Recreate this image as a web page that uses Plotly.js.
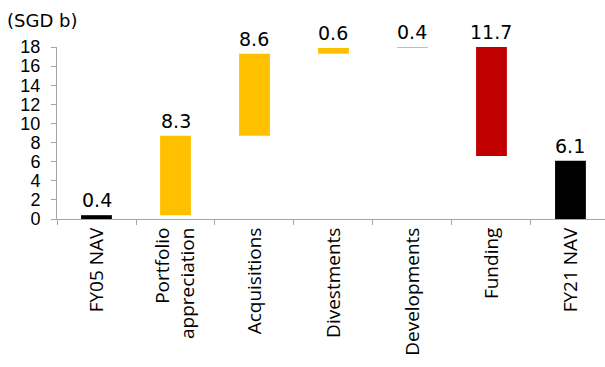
<!DOCTYPE html>
<html>
<head>
<meta charset="utf-8">
<script src="https://cdn.plot.ly/plotly-3.0.1.min.js"></script>
<style>html,body{margin:0;padding:0;background:#fff;}#chart{width:605px;height:367px;}</style>
</head>
<body>
<div id="chart"></div>
<script>
const categories = ["FY05 NAV", "Portfolio<br>appreciation", "Acquisitions", "Divestments", "Developments", "Funding", "FY21 NAV"];
const values = [0.4, 8.3, 8.6, 0.6, 0.4, -11.7, 6.1];
const measures = ["absolute", "relative", "relative", "relative", "relative", "relative", "absolute"];
const labels = ["0.4", "8.3", "8.6", "0.6", "0.4", "11.7", "6.1"];
const yMax = 18;

const colTotal = "#000000", colUp = "#FFC000", colDown = "#C00000";

let running = 0;
const bases = [], heights = [], tops = [], colors = [];
values.forEach((v, i) => {
  if (measures[i] === "absolute") {
    bases.push(0); heights.push(v); tops.push(v); colors.push(colTotal); running = v;
  } else {
    const start = running, end = running + v;
    bases.push(Math.min(start, end)); heights.push(Math.abs(v)); tops.push(Math.max(start, end));
    colors.push(v >= 0 ? colUp : colDown); running = end;
  }
});

const bars = {
  type: "bar", x: categories, y: heights, base: bases,
  marker: {color: colors, line: {width: 0}}, width: 0.39,
  hoverinfo: "skip", cliponaxis: true
};

const valueAnnotations = categories.map((c, i) => ({
  x: c, y: Math.min(tops[i], yMax), xref: "x", yref: "y", text: labels[i],
  showarrow: false, xanchor: "center", yanchor: "bottom", yshift: 2,
  font: {family: "DejaVu Sans", size: 19, color: "#000"}
}));

const layout = {
  width: 605, height: 367,
  margin: {l: 57, r: 0, t: 47, b: 148},
  paper_bgcolor: "#fff", plot_bgcolor: "#fff",
  showlegend: false,
  xaxis: {
    type: "category", range: [-0.5, 6.437], showline: true, linecolor: "#a6a6a6", linewidth: 1,
    ticks: "outside", tickson: "boundaries", ticklen: 5, tickcolor: "#a6a6a6",
    tickangle: -90, tickfont: {family: "Open Sans", size: 19, color: "#000"},
    showgrid: false, zeroline: false, fixedrange: true
  },
  yaxis: {
    range: [0, yMax], dtick: 2, tick0: 0, showline: true, linecolor: "#a6a6a6", linewidth: 1,
    ticks: "outside", ticklen: 5, tickcolor: "#a6a6a6", ticklabelstandoff: 7,
    tickfont: {family: "Liberation Sans", size: 18, color: "#000"},
    showgrid: false, zeroline: false, fixedrange: true
  },
  annotations: [{
    text: "(SGD b)", xref: "paper", yref: "paper", x: -0.095, y: 1.155,
    xanchor: "left", yanchor: "middle", showarrow: false,
    font: {family: "DejaVu Sans", size: 18, color: "#000"}
  }].concat(valueAnnotations)
};

Plotly.newPlot("chart", [bars], layout, {displayModeBar: false, staticPlot: true});
</script>
</body>
</html>
